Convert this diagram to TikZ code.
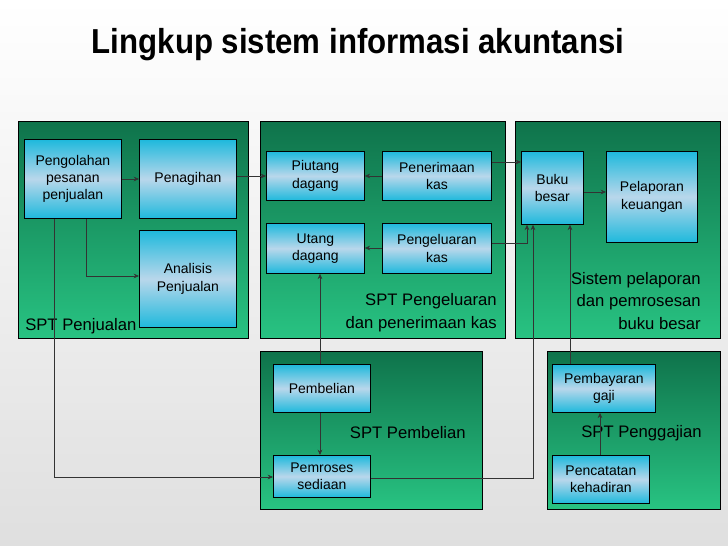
\documentclass[tikz,border=0pt]{standalone}
\usepackage{fontspec}
\setmainfont{Liberation Sans}
\usetikzlibrary{arrows.meta}
\definecolor{panelgreen}{RGB}{40,195,130}
\definecolor{paneldark}{RGB}{15,115,75}
\definecolor{boxcyan}{RGB}{30,185,220}
\definecolor{boxlight}{RGB}{185,215,235}
\tikzset{
  panel/.style={draw=black, line width=0.8pt, top color=paneldark, bottom color=panelgreen, anchor=north west, inner sep=0pt},
  proc/.style={draw=black, line width=0.6pt, top color=boxcyan, bottom color=boxcyan, middle color=boxlight,
    align=center, font=\fontsize{10.5}{13}\selectfont, inner sep=0pt, anchor=north west},
  lbl/.style={font=\fontsize{12.5}{17}\selectfont, inner sep=0pt},
  flow/.style={-{Stealth[length=4pt,width=3.5pt]}, line width=0.5pt, black!80}
}
\begin{document}
\begin{tikzpicture}[x=0.75pt,y=-0.75pt]
  \useasboundingbox (0,0) rectangle (728,546);
  \shade[top color=white, bottom color=gray!25] (0,0) rectangle (728,546);
  \node[font=\bfseries\fontsize{26}{30}\selectfont, xscale=0.9] (title) at (358,45) {Lingkup sistem informasi akuntansi};

  % panels
  \node[panel, minimum width=172.5pt, minimum height=162.75pt] (pjual) at (18,121) {};
  \node[panel, minimum width=183.75pt, minimum height=162.75pt] (pkas) at (260,121) {};
  \node[panel, minimum width=153.75pt, minimum height=162.75pt] (pbuku) at (515,121) {};
  \node[panel, minimum width=166.5pt, minimum height=118.5pt] (pbeli) at (260,351) {};
  \node[panel, minimum width=129.75pt, minimum height=118.5pt] (pgaji) at (547,351) {};

  % boxes
  \node[proc, minimum width=72.75pt, minimum height=59.25pt] (olah) at (24,139) {Pengolahan\\pesanan\\penjualan};
  \node[proc, minimum width=72.75pt, minimum height=59.25pt] (tagih) at (139,139) {Penagihan};
  \node[proc, minimum width=72.75pt, minimum height=72.75pt] (analis) at (139,230) {Analisis\\Penjualan};
  \node[proc, minimum width=73.5pt, minimum height=36.75pt] (piutang) at (266,151) {Piutang\\dagang};
  \node[proc, minimum width=81.75pt, minimum height=36.75pt] (terima) at (382,151) {Penerimaan\\kas};
  \node[proc, minimum width=73.5pt, minimum height=37.5pt] (utang) at (266,223) {Utang\\dagang};
  \node[proc, minimum width=81.75pt, minimum height=37.5pt] (keluar) at (382,223) {Pengeluaran\\kas};
  \node[proc, minimum width=46.5pt, minimum height=54.75pt] (buku) at (521,151) {Buku\\besar};
  \node[proc, minimum width=68.25pt, minimum height=68.25pt] (lapor) at (606,151) {Pelaporan\\keuangan};
  \node[proc, minimum width=72.75pt, minimum height=36pt] (beli) at (273,364) {Pembelian};
  \node[proc, minimum width=72.75pt, minimum height=31.5pt] (sedia) at (273,455) {Pemroses\\sediaan};
  \node[proc, minimum width=77.25pt, minimum height=36pt] (bayar) at (552,364) {Pembayaran\\gaji};
  \node[proc, minimum width=72.75pt, minimum height=36pt] (catat) at (552,455) {Pencatatan\\kehadiran};

  % panel labels
  \node[lbl, anchor=west] (ljual) at (25,326) {SPT Penjualan};
  \node[lbl, anchor=east, align=right] (lkas) at (497,313) {SPT Pengeluaran\\dan penerimaan kas};
  \node[lbl, anchor=east, align=right] (lbuku) at (701,301) {Sistem pelaporan\\dan pemrosesan\\buku besar};
  \node[lbl, anchor=east] (lbeli) at (466,433) {SPT Pembelian};
  \node[lbl, anchor=east] (lgaji) at (702,433) {SPT Penggajian};

  % connectors
  \draw[flow] (olah.east |- 0,179) -- (tagih.west |- 0,179);
  \draw[flow] (olah.south -| 86,0) |- (analis.west |- 0,276);
  \draw[flow] (olah.south -| 54,0) |- (sedia.west |- 0,477);
  \draw[flow] (tagih.east |- 0,176) -- (piutang.west |- 0,176);
  \draw[flow] (terima.west |- 0,176) -- (piutang.east |- 0,176);
  \draw[flow] (keluar.west |- 0,248) -- (utang.east |- 0,248);
  \draw[flow] (terima.east |- 0,162) -- (buku.west |- 0,162);
  \draw[flow] (keluar.east |- 0,243) -| (buku.south -| 527,0);
  \draw[flow] (beli.north -| 320,0) -- (utang.south -| 320,0);
  \draw[flow] (beli.south -| 320,0) -- (sedia.north -| 320,0);
  \draw[flow] (sedia.east |- 0,478) -| (buku.south -| 533,0);
  \draw[flow] (bayar.north -| 570,0) -- (buku.south -| 570,0);
  \draw[flow] (catat.north -| 600,0) -- (bayar.south -| 600,0);
  \draw[flow] (buku.east |- 0,192) -- (lapor.west |- 0,192);
\end{tikzpicture}
\end{document}
